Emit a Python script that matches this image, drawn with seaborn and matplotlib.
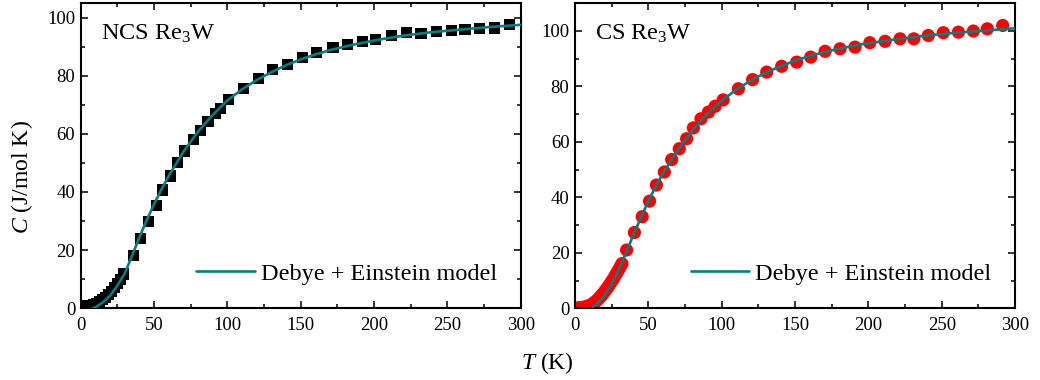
import matplotlib
matplotlib.use("Agg")
import matplotlib.pyplot as plt
import seaborn as sns
from matplotlib.ticker import MultipleLocator

# NCS Re3W measured heat capacity (squares)
ncs_T = [1, 3, 5, 7, 9, 11, 13, 15, 17, 19, 21, 23, 25, 27, 29,
         35.8, 41, 46, 51.8, 56, 61, 66, 70.8, 77, 81.5, 86.8, 91.8, 95.5, 100.5,
         111, 121, 131, 141, 151, 161, 172, 182, 192, 201, 212, 222, 232, 242.5,
         253, 262, 272, 282, 292.5]
ncs_C = [0.8, 0.8, 0.9, 1.0, 1.3, 1.7, 2.2, 2.9, 3.7, 4.7, 5.8, 7.1, 8.5, 10.0, 11.8,
         18.3, 24.1, 29.8, 35.5, 40.7, 45.5, 50.1, 54.1, 58.1, 61.3, 64.2, 67.1, 68.8, 71.7,
         75.7, 79.1, 82.0, 84.0, 86.2, 88.1, 89.6, 90.8, 91.7, 92.5, 93.7, 94.9, 94.6, 95.1,
         95.5, 96.0, 96.1, 96.4, 97.5]

# NCS Debye + Einstein fit
ncs_fit_T = [8, 10, 15, 20, 25, 30, 35, 40, 45, 50, 55, 60, 70, 80, 90, 100, 110, 120,
             130, 140, 150, 160, 170, 180, 190, 200, 220, 240, 260, 280, 300]
ncs_fit_C = [0.0, 0.3, 2.0, 4.3, 7.8, 12.0, 18.0, 24.4, 30.3, 35.8, 40.8, 45.5, 53.8,
             60.8, 66.5, 71.5, 75.3, 78.5, 81.2, 83.6, 85.6, 87.3, 88.8, 90.0, 91.1,
             92.1, 93.8, 95.0, 95.9, 96.8, 97.5]

# CS Re3W measured heat capacity (circles)
cs_T = [1, 2, 3, 4, 5, 6, 7, 8, 9, 10, 11, 12, 13, 14, 15, 16, 17, 18, 19, 20, 21, 22,
        23, 24, 25, 26, 27, 28, 29, 30, 31, 32,
        35.2, 40.5, 45.8, 50.8, 55.5, 60.9, 65.9, 71.1, 76.1, 80.7, 85.9, 91, 95.5, 101,
        111.4, 121.1, 130.7, 140.9, 151.1, 160.7, 170.5, 180.7, 190.9, 201, 211.4, 221.6,
        231, 240.9, 251.1, 261.4, 271.6, 281.1, 291.6]
cs_C = [0.05, 0.1, 0.15, 0.2, 0.3, 0.4, 0.5, 0.6, 0.8, 1.0, 1.3, 1.6, 2.0, 2.4, 2.9, 3.4,
        4.0, 4.6, 5.2, 5.9, 6.6, 7.3, 8.1, 8.9, 9.7, 10.5, 11.4, 12.3, 13.2, 14.1, 15.1, 16.1,
        21.0, 27.3, 33.0, 38.6, 44.4, 49.1, 53.6, 57.5, 61.1, 65.0, 68.3, 70.7, 72.8, 75.1,
        79.1, 82.4, 85.1, 87.2, 88.7, 90.5, 92.6, 93.5, 94.1, 95.7, 96.2, 97.1,
        97.1, 98.3, 99.3, 99.5, 99.9, 100.7, 101.9]

# CS Debye + Einstein fit
cs_fit_T = [12, 15, 20, 25, 30, 35, 40, 45, 50, 55, 60, 70, 80, 90, 100, 110, 120, 130,
            140, 150, 160, 170, 180, 190, 200, 220, 240, 260, 280, 300]
cs_fit_C = [0.5, 1.6, 4.6, 8.8, 14.0, 20.3, 26.7, 32.8, 38.6, 43.9, 48.7, 57.0, 64.0,
            70.0, 74.8, 78.8, 82.1, 84.9, 87.2, 89.2, 90.9, 92.3, 93.5, 94.6, 95.5, 97.0,
            98.3, 99.3, 100.1, 100.9]

fit_label = "Debye + Einstein model"
teal = "#008080"

sns.set_style("ticks", {'text.color': 'black', 'axes.labelcolor': 'black',
                        'xtick.color': 'black', 'ytick.color': 'black',
                        'axes.edgecolor': 'black'})
plt.rcParams['font.family'] = ['Liberation Serif', 'DejaVu Serif']
plt.rcParams['mathtext.fontset'] = 'custom'
plt.rcParams['mathtext.rm'] = 'Liberation Serif'
plt.rcParams['mathtext.it'] = 'Liberation Serif:italic'
plt.rcParams['mathtext.default'] = 'regular'

fig = plt.figure(figsize=(10.4, 3.8), dpi=100)
ax1 = fig.add_axes([0.0776, 0.1887, 0.4231, 0.8034])
ax2 = fig.add_axes([0.5529, 0.1887, 0.4231, 0.8034])

sns.scatterplot(x=ncs_T, y=ncs_C, ax=ax1, marker='s', s=64, color='black',
                edgecolor='none', zorder=2)
sns.lineplot(x=ncs_fit_T, y=ncs_fit_C, ax=ax1, color=teal, lw=1.9,
             label=fit_label, zorder=3)

sns.scatterplot(x=cs_T, y=cs_C, ax=ax2, marker='o', s=90, color='red',
                edgecolor='none', zorder=2)
sns.lineplot(x=cs_fit_T, y=cs_fit_C, ax=ax2, color=teal, lw=1.9,
             label=fit_label, zorder=3)

for ax, ymax, title in [(ax1, 105, 'NCS Re$_3$W'), (ax2, 110, 'CS Re$_3$W')]:
    ax.set_xlim(0, 300)
    ax.set_ylim(0, ymax)
    ax.xaxis.set_major_locator(MultipleLocator(50))
    ax.xaxis.set_minor_locator(MultipleLocator(25))
    ax.yaxis.set_major_locator(MultipleLocator(20))
    ax.yaxis.set_minor_locator(MultipleLocator(10))
    ax.tick_params(which='both', direction='in', top=True, right=True,
                   labelsize=13.5, width=1.1, color='black', labelcolor='black')
    ax.tick_params(which='major', length=5)
    ax.tick_params(which='minor', length=3)
    ax.tick_params(axis='x', pad=6)
    ax.tick_params(axis='y', pad=4)
    for sp in ax.spines.values():
        sp.set_visible(True)
        sp.set_linewidth(1.5)
        sp.set_color('black')
    ax.set_xlabel('')
    ax.set_ylabel('')
    ax.text(0.045, 0.935, title, transform=ax.transAxes, fontsize=17.5,
            va='top', ha='left', color='black')
    ax.legend(loc='center right', bbox_to_anchor=(0.946, 0.113), frameon=False,
              fontsize=17.5, handlelength=2.4, handletextpad=0.25,
              borderpad=0, borderaxespad=0, labelcolor='black')

ax1.set_ylabel('$\\mathit{C}$ (J/mol K)', fontsize=17, color='black')
ax1.yaxis.set_label_coords(-0.105, 0.43)
fig.text(0.5264, 0.045, '$\\mathit{T}$ (K)', fontsize=17, ha='center', va='center',
         color='black')

fig.savefig('out.png', dpi=100)
